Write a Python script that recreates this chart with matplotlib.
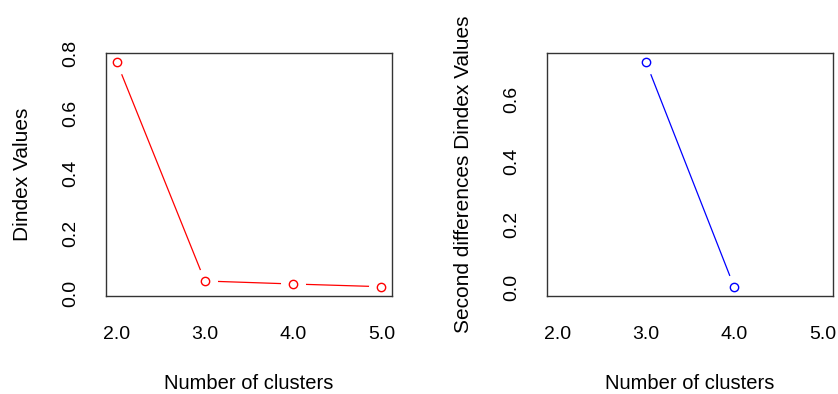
import matplotlib
matplotlib.use("Agg")
import matplotlib.pyplot as plt

# data
clusters = [2, 3, 4, 5]
dindex = [0.771, 0.040, 0.030, 0.021]

clusters_2nd = [3, 4]
dindex_2nd = [0.719, 0.001]

xticks = [2, 3, 4, 5]
xtick_labels = ["2.0", "3.0", "4.0", "5.0"]
yticks_left = [0.0, 0.2, 0.4, 0.6, 0.8]
yticks_right = [0.0, 0.2, 0.4, 0.6]

SANS = ["Liberation Sans", "DejaVu Sans"]


def r_lim(vals):
    # R style 4% padding
    lo, hi = min(vals), max(vals)
    d = (hi - lo) * 0.04
    return lo - d, hi + d


def panel(ax, x, y, color, ylabel, yticks):
    # type="b": line with gaps round the points
    ax.plot(x, y, color=color, lw=0.9, zorder=1)
    ax.plot(x, y, ls="none", marker="o", ms=17, mfc="white", mec="white", zorder=1.5)
    ax.plot(x, y, ls="none", marker="o", ms=6, mfc="none", mec=color, mew=1.0, zorder=3)
    ax.set_xlim(*r_lim(xticks))
    ax.set_ylim(*r_lim(y))
    ax.set_xticks(xticks)
    ax.set_xticklabels(xtick_labels, family=SANS, fontsize=14)
    ax.set_yticks(yticks)
    ax.set_yticklabels(["%.1f" % v for v in yticks], family=SANS, fontsize=14,
                       rotation=90, va="center")
    ax.tick_params(length=0)
    ax.tick_params(axis="x", pad=22)
    ax.tick_params(axis="y", pad=19)
    ax.set_xlabel("Number of clusters", family=SANS, fontsize=14.5, labelpad=22)
    ax.set_ylabel(ylabel, family=SANS, fontsize=15, labelpad=22)
    for s in ax.spines.values():
        s.set_color("#333333")
        s.set_linewidth(1.0)


fig = plt.figure(figsize=(8.38, 3.94), dpi=100)
ax1 = fig.add_axes([0.1265, 0.2495, 0.3413, 0.6167])
ax2 = fig.add_axes([0.6527, 0.2495, 0.3413, 0.6167])

panel(ax1, clusters, dindex, "#ff0000", "Dindex Values", yticks_left)
panel(ax2, clusters_2nd, dindex_2nd, "#0000ff", "Second differences Dindex Values", yticks_right)

fig.savefig("out.png", dpi=100)
